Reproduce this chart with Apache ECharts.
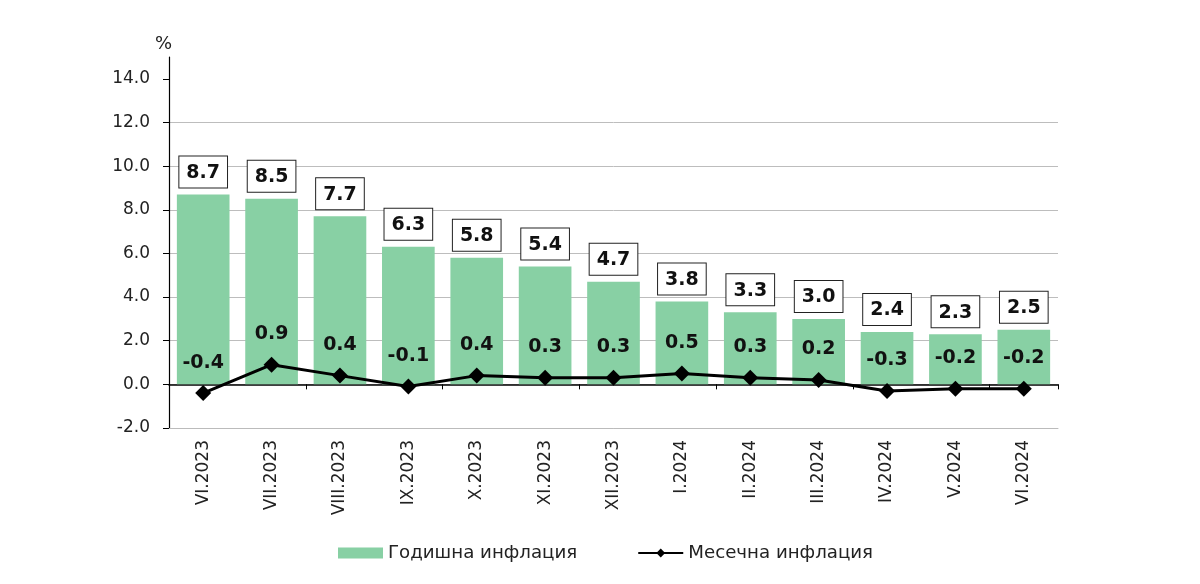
<!DOCTYPE html>
<html>
<head>
<meta charset="utf-8">
<script src="https://cdn.jsdelivr.net/npm/echarts@6/dist/echarts.min.js"></script>
<style>html,body{margin:0;padding:0;background:#fff}#c{width:1200px;height:584px}</style>
</head>
<body>
<div id="c"></div>
<script>
const categories = ['VI.2023','VII.2023','VIII.2023','IX.2023','X.2023','XI.2023','XII.2023','I.2024','II.2024','III.2024','IV.2024','V.2024','VI.2024'];
const annualInflation = [8.7, 8.5, 7.7, 6.3, 5.8, 5.4, 4.7, 3.8, 3.3, 3.0, 2.4, 2.3, 2.5];
const monthlyInflation = [-0.4, 0.9, 0.4, -0.1, 0.4, 0.3, 0.3, 0.5, 0.3, 0.2, -0.3, -0.2, -0.2];
const yTicks = [-2, 0, 2, 4, 6, 8, 10, 12, 14];
const seriesNames = ['Годишна инфлация', 'Месечна инфлация'];

const FONT = 'DejaVu Sans';
const chart = echarts.init(document.getElementById('c'));
chart.setOption({
  animation: false,
  textStyle: { fontFamily: FONT },
  grid: { left: 169, right: 142, top: 57, bottom: 156, containLabel: false },
  legend: {
    bottom: 17,
    left: 333,
    itemGap: 60,
    itemWidth: 45,
    itemHeight: 11,
    textStyle: { fontFamily: FONT, fontSize: 18.2, color: '#222' },
    data: [
      { name: seriesNames[0], icon: 'rect' },
      { name: seriesNames[1] }
    ]
  },
  xAxis: [
    {
      type: 'category',
      data: categories,
      axisLine: { onZero: true, lineStyle: { color: '#000', width: 1.5 } },
      axisTick: { show: true, length: 5, inside: false, lineStyle: { color: '#000' } },
      axisLabel: { show: false },
      splitLine: { show: false }
    },
    {
      type: 'category',
      data: categories,
      position: 'bottom',
      axisLine: { onZero: false, lineStyle: { color: '#bbb', width: 1 } },
      axisTick: { show: false },
      axisLabel: { rotate: 90, fontSize: 17, color: '#222', margin: 12, fontFamily: FONT },
      splitLine: { show: false }
    }
  ],
  yAxis: {
    type: 'value',
    min: -2,
    max: 15,
    interval: 1,
    name: '%',
    nameLocation: 'end',
    nameGap: 4,
    nameTextStyle: { fontSize: 18, color: '#222', align: 'right', padding: [0, -3, 0, 0] },
    axisLine: { show: true, lineStyle: { color: '#000', width: 1.2 } },
    axisTick: { show: true, length: 6, customValues: yTicks, lineStyle: { color: '#000' } },
    axisLabel: {
      customValues: yTicks,
      fontSize: 17, color: '#222', margin: 19,
      formatter: v => v.toFixed(1)
    },
    splitLine: { show: true, showMaxLine: false, lineStyle: { color: '#bdbdbd', width: 1 } }
  },
  series: [
    {
      name: seriesNames[0],
      type: 'bar',
      data: annualInflation,
      barWidth: '77%',
      itemStyle: { color: '#88d0a4' },
      label: {
        show: true,
        position: 'top',
        distance: 7,
        formatter: p => p.value.toFixed(1),
        fontSize: 19,
        fontWeight: 'bold',
        color: '#111',
        backgroundColor: '#fff',
        borderColor: '#222',
        borderWidth: 1,
        padding: [7, 7, 5, 7]
      },
      z: 2
    },
    {
      name: seriesNames[1],
      type: 'line',
      data: monthlyInflation,
      symbol: 'diamond',
      symbolSize: 16,
      lineStyle: { color: '#000', width: 3 },
      itemStyle: { color: '#000' },
      label: {
        show: true,
        position: 'top',
        distance: 13,
        formatter: p => p.value.toFixed(1),
        fontSize: 19,
        fontWeight: 'bold',
        color: '#111'
      },
      z: 5
    }
  ]
});
</script>
</body>
</html>
